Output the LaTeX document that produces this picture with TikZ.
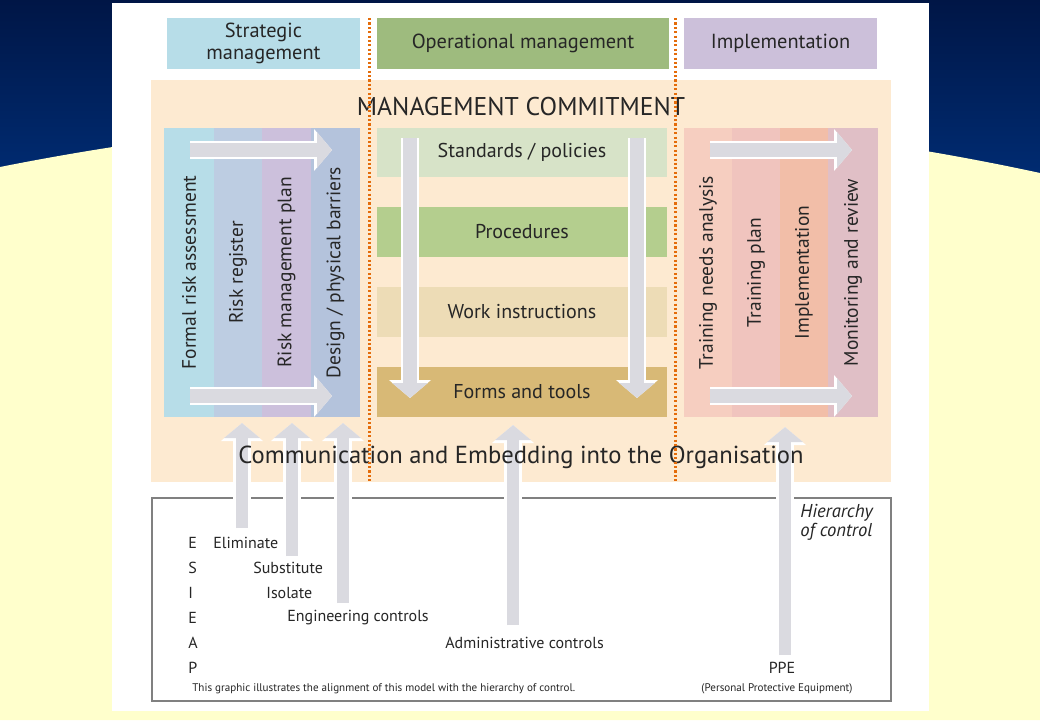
\documentclass[tikz,border=0pt]{standalone}
\usepackage{fontspec}
\setmainfont{PT Sans}
\usetikzlibrary{arrows.meta}

\definecolor{navytop}{RGB}{0,22,70}
\definecolor{navybot}{RGB}{0,44,115}
\definecolor{paleyellow}{RGB}{255,255,204}
\definecolor{peach}{RGB}{253,234,209}
\definecolor{ink}{RGB}{38,38,38}
\definecolor{arrowgrey}{RGB}{218,218,224}
\definecolor{dotorange}{RGB}{228,108,10}
\definecolor{boxgrey}{RGB}{128,128,128}
\definecolor{stratblue}{RGB}{183,221,232}
\definecolor{opgreen}{RGB}{158,187,126}
\definecolor{implilac}{RGB}{204,192,218}
\definecolor{colA}{RGB}{183,221,232}
\definecolor{colB}{RGB}{189,205,226}
\definecolor{colC}{RGB}{204,192,220}
\definecolor{colD}{RGB}{180,195,220}
\definecolor{colE}{RGB}{246,206,192}
\definecolor{colF}{RGB}{240,196,190}
\definecolor{colG}{RGB}{242,190,168}
\definecolor{colH}{RGB}{224,191,198}
\definecolor{rowA}{RGB}{215,227,200}
\definecolor{rowB}{RGB}{180,206,142}
\definecolor{rowC}{RGB}{237,220,182}
\definecolor{rowD}{RGB}{216,185,118}

\begin{document}
\begin{tikzpicture}[x=0.02cm,y=-0.02cm,
	every node/.style={font=\fontsize{11.4}{13.2}\selectfont, text=ink},
	band/.style={inner sep=0pt, outer sep=0pt},
	fatarrow/.style={line width=0.27cm, draw=arrowgrey, -{Triangle[width=0.7cm,length=0.3cm]},
		preaction={draw=white, line width=0.35cm, -{Triangle[width=0.82cm,length=0.36cm]}}},
	uparrow/.style={fatarrow, line width=0.23cm},
	divider/.style={draw=dotorange, line width=1.7pt, dash pattern=on 1.2pt off 1.3pt},
	listtext/.style={anchor=west, inner sep=0pt, font=\fontsize{9.1}{11}\selectfont},
	tinytext/.style={inner sep=0pt, font=\fontsize{6.3}{7}\selectfont}]
	\useasboundingbox (0,0) rectangle (1040,720);
	% slide background
	\shade[top color=navytop, bottom color=navybot] (0,0) rectangle (1040,180);
	\fill[paleyellow] (0,167) .. controls (347,98) and (693,98) .. (1040,173) -- (1040,720) -- (0,720) -- cycle;
	\fill[white] (112,3) rectangle (929,711);
	% headings
	\foreach \name/\xa/\xb/\col/\txt in {strat/167/360/stratblue/{Strategic\\management},
		oper/377/669/opgreen/{Operational management}, impl/684/877/implilac/{Implementation}}
		\node[band, fill=\col, align=center, font=\fontsize{11.6}{12.4}\selectfont,
			minimum width={(\xb-\xa)*0.02cm}, minimum height=1.02cm] (\name) at ({(\xa+\xb)/2},43.5) {\txt};
	\fill[peach] (151,80) rectangle (891,482);
	% strategic and implementation columns
	\foreach \name/\xa/\xb/\col/\txt in {fra/164/214/colA/Formal risk assessment, rreg/214/262/colB/Risk register,
		rmp/262/311/colC/Risk management plan, dpb/311/360/colD/{Design / physical barriers},
		tna/684/732/colE/Training needs analysis, tpl/732/780/colF/Training plan,
		imp/780/828/colG/Implementation, mon/828/878/colH/Monitoring and review}
		\node[band, fill=\col, rotate=90, font=\fontsize{11.1}{13}\selectfont,
			minimum width=5.78cm, minimum height={(\xb-\xa)*0.02cm}] (\name) at ({(\xa+\xb)/2},272.5) {\txt};
	% operational rows
	\foreach \name/\y/\col/\txt in {std/152.5/rowA/{Standards / policies}, proc/232/rowB/Procedures,
		work/312/rowC/Work instructions, forms/392/rowD/Forms and tools}
		\node[band, fill=\col, minimum width=5.8cm, minimum height=1cm] (\name) at (522,\y) {\txt};
	% flow arrows inside the blocks
	\foreach \name/\xa/\ya/\xb/\yb in {sa/190/150/332/150, sb/190/396/332/396, ia/710/150/852/150, ib/710/396/852/396,
		oa/410/138/410/398, ob/637/138/637/398} {
		\coordinate (\name-a) at (\xa,\ya);
		\coordinate (\name-b) at (\xb,\yb);
		\draw[fatarrow] (\name-a) -- (\name-b);
	}
	% hierarchy of control
	\draw[boxgrey, line width=0.6pt] (152,498) rectangle (891,701);
	\foreach \name/\x/\ya/\yb in {elim/242/528/423, subs/292/556/423, isol/343/603/423, admin/513/625/425, ppe/785/655/427} {
		\coordinate (\name-a) at (\x,\ya);
		\coordinate (\name-b) at (\x,\yb);
		\draw[uparrow] (\name-a) -- (\name-b);
	}
	\foreach \l [count=\i] in {E,S,I,E,A,P}
		\node[listtext] (letter\i) at (188,{518+25*\i}) {\l};
	\foreach \name/\x/\y/\txt in {eliminate/213/543/Eliminate, substitute/253/568/Substitute, isolate/266/593/Isolate,
		engineering/287/618/Engineering controls, administrative/445/643/Administrative controls}
		\node[listtext] (\name) at (\x,\y) {\txt};
	\node[listtext, anchor=center] (ppe) at (782,668) {PPE};
	\node[tinytext, anchor=west] (note) at (192,689) {This graphic illustrates the alignment of this model with the hierarchy of control.};
	\node[tinytext] (ppefull) at (777,689) {(Personal Protective Equipment)};
	\node[anchor=west, inner sep=0pt, align=left, font=\itshape\fontsize{10.6}{10.8}\selectfont] (hoc) at (800,522.5) {Hierarchy\\of control};
	% commitment and embedding
	\node[font=\fontsize{14.6}{17}\selectfont] (commit) at (521,107) {MANAGEMENT COMMITMENT};
	\node[font=\fontsize{14}{17}\selectfont] (embed) at (521,457) {Communication and Embedding into the Organisation};
	\draw[divider] (369,18) -- (369,483);
	\draw[divider] (675,18) -- (675,483);
\end{tikzpicture}
\end{document}
